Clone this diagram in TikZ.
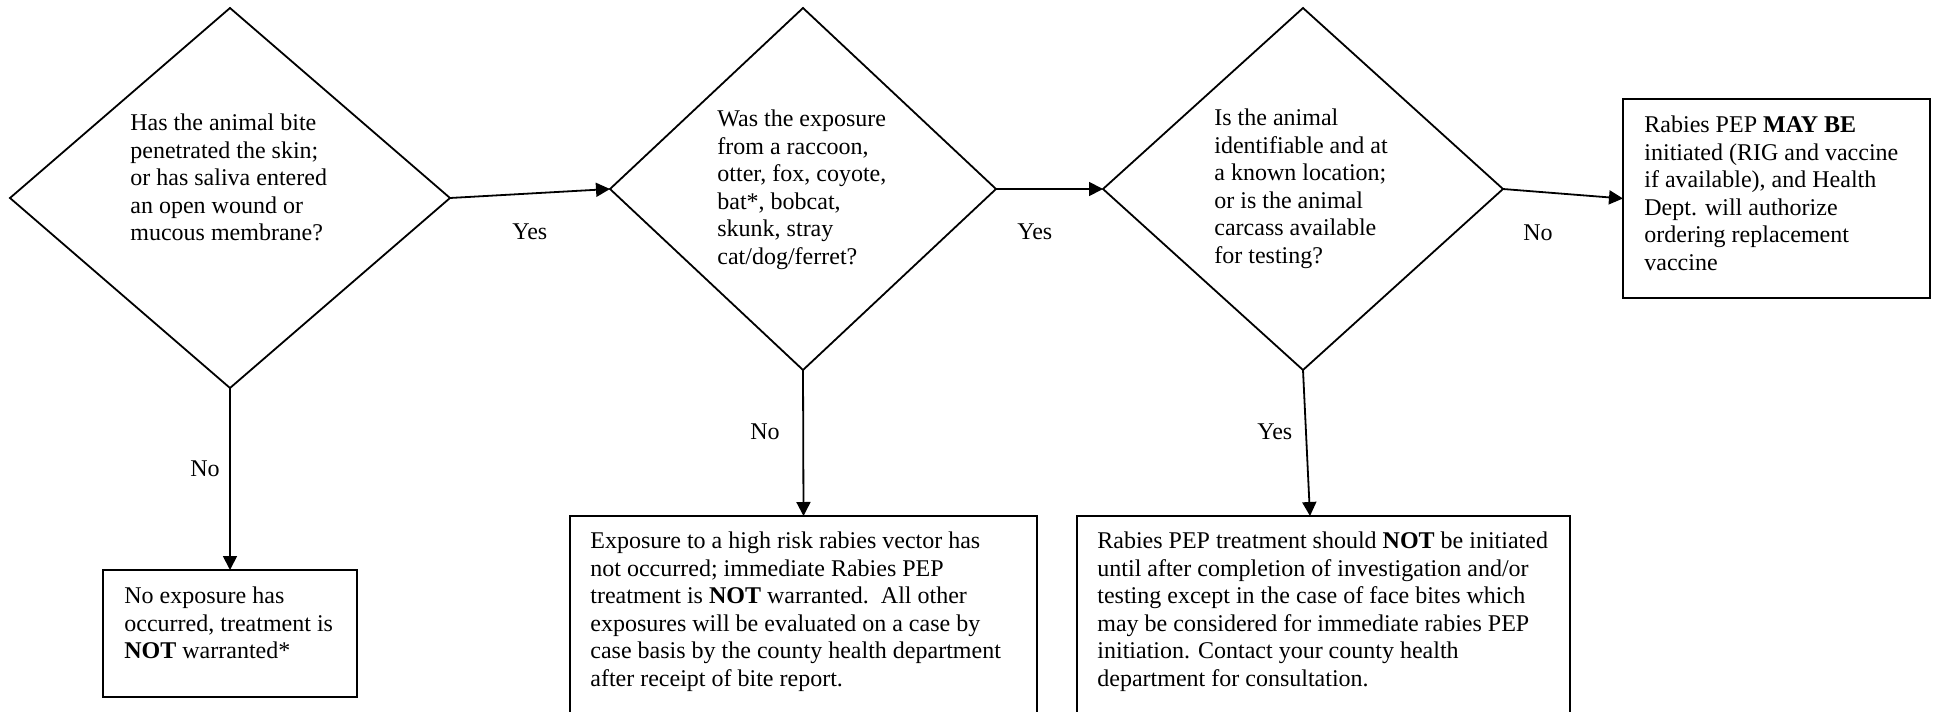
\documentclass[tikz,border=0pt]{standalone}
\usepackage{fontspec}
\setmainfont{Liberation Serif}
\usetikzlibrary{shapes.geometric,arrows.meta}
\begin{document}
\begin{tikzpicture}[x=0.5pt,y=-0.5pt,
  dia/.style={draw, shape=diamond, line width=0.9pt, inner sep=0pt, outer sep=0pt},
  box/.style={draw, rectangle, line width=1.1pt, inner sep=0pt, outer sep=0pt, anchor=north west},
  txt/.style={inner sep=0pt, anchor=north west, align=left, font=\fontsize{12pt}{13.8pt}\selectfont},
  lbl/.style={inner sep=0pt, anchor=base west, font=\fontsize{12pt}{13.8pt}\selectfont},
  arr/.style={line width=0.9pt, -{Triangle[length=7pt,width=7pt]}}
]
\clip (0,0) rectangle (1933,712);

% decisions
\node[dia, minimum width=220pt, minimum height=190pt] (d1) at (230,198) {};
\node[dia, minimum width=193pt, minimum height=181pt] (d2) at (803,189) {};
\node[dia, minimum width=200pt, minimum height=181pt] (d3) at (1303,189) {};

\node[txt] (d1t) at (130,110.7) {\strut Has the animal bite\\penetrated the skin;\\or has saliva entered\\an open wound or\\mucous membrane?};
\node[txt] (d2t) at (717,106.7) {\strut Was the exposure\\from a raccoon,\\otter, fox, coyote,\\bat*, bobcat,\\skunk, stray\\cat/dog/ferret?};
\node[txt] (d3t) at (1214,105.7) {\strut Is the animal\\identifiable and at\\a known location;\\or is the animal\\carcass available\\for testing?};

% outcome boxes
\node[box, minimum width=153.5pt, minimum height=99.5pt] (rb) at (1623,99) {};
\node[box, minimum width=127pt, minimum height=63.5pt] (b1) at (103,570) {};
\node[box, minimum width=233.5pt, minimum height=110pt] (b2) at (570,516) {};
\node[box, minimum width=246.5pt, minimum height=110pt] (b3) at (1077,516) {};

\node[txt] (rbt) at (1644,112.7) {\strut Rabies PEP \textbf{MAY BE}\\initiated (RIG and vaccine\\if available), and Health\\Dept. will authorize\\ordering replacement\\vaccine};
\node[txt] (b1t) at (124,583.7) {\strut No exposure has\\occurred, treatment is\\\textbf{NOT} warranted*};
\node[txt] (b2t) at (590,528.7) {\strut Exposure to a high risk rabies vector has\\not occurred; immediate Rabies PEP\\treatment is \textbf{NOT} warranted.\ \ All other\\exposures will be evaluated on a case by\\case basis by the county health department\\after receipt of bite report.};
\node[txt] (b3t) at (1097,528.7) {\strut Rabies PEP treatment should \textbf{NOT} be initiated\\until after completion of investigation and/or\\testing except in the case of face bites which\\may be considered for immediate rabies PEP\\initiation. Contact your county health\\department for consultation.};

% connectors
\draw[arr] (d1.east) -- (d2.west);
\draw[arr] (d2.east) -- (d3.west);
\draw[arr] (d3.east) -- (rb.west);
\draw[arr] (d1.south) -- (b1.north);
\draw[arr] (d2.south) -- (b2.north);
\draw[arr] (d3.south) -- ([xshift=-6.75pt]b3.north);

% labels
\node[lbl] (l1) at (512,239) {Yes};
\node[lbl] (l2) at (1017,239) {Yes};
\node[lbl] (l3) at (1523,240) {No};
\node[lbl] (l4) at (190,476) {No};
\node[lbl] (l5) at (750,439) {No};
\node[lbl] (l6) at (1257,439) {Yes};
\end{tikzpicture}
\end{document}
